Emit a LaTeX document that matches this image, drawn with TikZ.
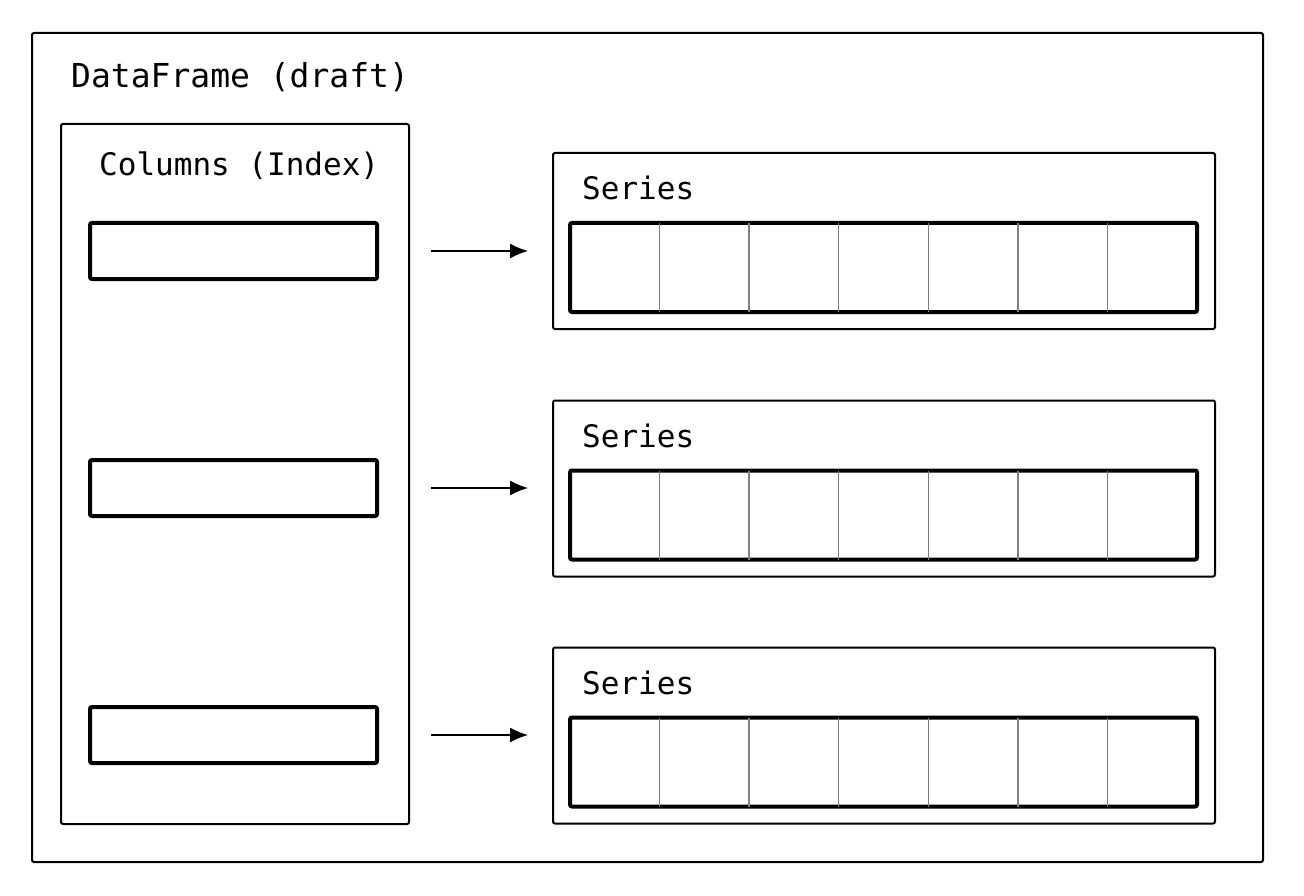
\documentclass[tikz,border=0pt]{standalone}
\usepackage{fontspec}
\setmonofont{DejaVu Sans Mono}
\usetikzlibrary{arrows.meta}

\begin{document}
\begin{tikzpicture}[x=1pt,y=-1pt,
	frame/.style={draw,line width=2pt,rounded corners=2pt,inner sep=0,outer sep=0},
	cellbox/.style={draw,line width=4pt,rounded corners=2pt,inner sep=0,outer sep=0},
	label/.style={anchor=base west,inner sep=0,font=\ttfamily\fontsize{31}{36}\selectfont},
	arr/.style={-{Latex[length=18pt,width=15pt]},line width=1.5pt,shorten <=54pt,shorten >=25pt}]
	\useasboundingbox (0,0) rectangle (1304,896);
	\node[frame,minimum width=1231pt,minimum height=829pt] (df) at (647.5,447.5) {};
	\node[label,font=\ttfamily\fontsize{33}{38}\selectfont] (dftitle) at (71,88) {DataFrame (draft)};
	\node[frame,minimum width=348pt,minimum height=700pt] (cols) at (235,474) {};
	\node[label] (colstitle) at (99,176) {Columns (Index)};
	% index cells, series boxes and arrows
	\foreach \i/\y/\sy in {1/251/241,2/488/488.5,3/735/735.5} {
		\node[cellbox,minimum width=287pt,minimum height=56pt] (idx\i) at (233.5,\y) {};
		\node[frame,minimum width=662pt,minimum height=176pt] (ser\i) at (884,\sy) {};
		\node[label] (sertitle\i) at (582,\sy-41) {Series};
		\node[cellbox,minimum width=627pt,minimum height=89pt] (arr\i) at (883.5,\sy+26.5) {};
		\foreach \k in {1,...,6}
			\draw[gray,line width=1.5pt] ([xshift=\k*89.57pt]arr\i.north west) -- ([xshift=\k*89.57pt]arr\i.south west);
		\draw[arr] (idx\i.east) -- (idx\i.east -| ser\i.west);
	}
\end{tikzpicture}
\end{document}
